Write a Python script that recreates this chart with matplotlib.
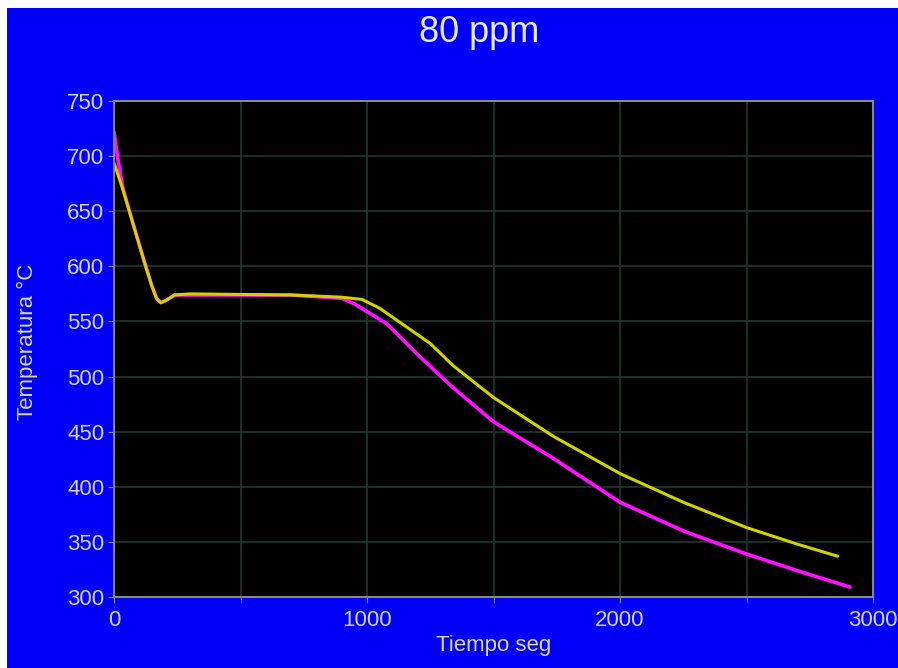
import matplotlib
matplotlib.use("Agg")
import matplotlib.pyplot as plt
from matplotlib.patches import Rectangle

plt.rcParams["font.family"] = ["Liberation Sans", "DejaVu Sans"]

# curva amarilla
t_amarillo = [0, 36, 80, 120, 150, 168, 185, 205, 240, 300, 700, 900, 980, 1050,
              1150, 1250, 1340, 1500, 1735, 2000, 2250, 2500, 2700, 2860]
temp_amarillo = [694, 669, 635, 604, 582, 571, 567, 569, 574, 575, 574, 572, 570, 562,
                 546, 530, 510, 481, 446, 412, 386, 363, 348, 337]

# curva magenta
t_magenta = [0, 15, 36, 80, 120, 150, 168, 185, 205, 240, 700, 900, 950, 1078, 1209,
             1340, 1500, 1735, 2000, 2250, 2500, 2700, 2909]
temp_magenta = [722, 698, 670, 635, 604, 582, 571, 567, 569, 574, 574, 571, 566, 548,
                518, 490, 459, 426, 386, 360, 339, 324, 309]

x_ticks = [0, 1000, 2000, 3000]
y_ticks = [300, 350, 400, 450, 500, 550, 600, 650, 700, 750]

AZUL = "#0000fa"
TEXTO = "#d4d4ec"
ETIQ = "#d8d898"

fig = plt.figure(figsize=(8.98, 6.68), dpi=100, facecolor=AZUL)
# borde blanco arriba e izquierda
fig.add_artist(Rectangle((0, 0), 7 / 898, 1, transform=fig.transFigure,
                         facecolor="white", edgecolor="none"))
fig.add_artist(Rectangle((0, 1 - 8 / 668), 1, 8 / 668, transform=fig.transFigure,
                         facecolor="white", edgecolor="none"))

ax = fig.add_axes([114 / 898, 1 - 597 / 668, (873 - 114) / 898, (597 - 101) / 668])
ax.set_facecolor("black")

ax.plot(t_magenta, temp_magenta, color="#ff10ff", linewidth=2.6, solid_capstyle="round")
ax.plot(t_amarillo, temp_amarillo, color="#d2d200", linewidth=2.2, solid_capstyle="round")

ax.set_xlim(0, 3000)
ax.set_ylim(300, 750)
ax.set_xticks(x_ticks)
ax.set_yticks(y_ticks)
ax.set_xticks([500, 1500, 2500], minor=True)

ax.grid(True, which="both", color="#1c3a30", linewidth=1.2)
ax.set_axisbelow(True)

for s in ax.spines.values():
    s.set_color("#8a8a7a")
    s.set_linewidth(1.5)

ax.tick_params(axis="both", which="both", colors="#8a8a9a", labelcolor=TEXTO,
               labelsize=16, length=4, direction="out")
ax.tick_params(axis="x", pad=5)
ax.tick_params(axis="y", pad=3)

ax.set_xlabel("Tiempo seg", color=ETIQ, fontsize=16, va="center")
ax.xaxis.set_label_coords(0.5, -0.097)
ax.set_ylabel("Temperatura °C", color=ETIQ, fontsize=16, va="center")
ax.yaxis.set_label_coords(-0.1146, 0.514)

fig.text(0.534, 1 - 33 / 668, "80 ppm", color="#e8e8ff", fontsize=26,
         ha="center", va="center")

fig.savefig("out.png", dpi=100, facecolor=fig.get_facecolor())
